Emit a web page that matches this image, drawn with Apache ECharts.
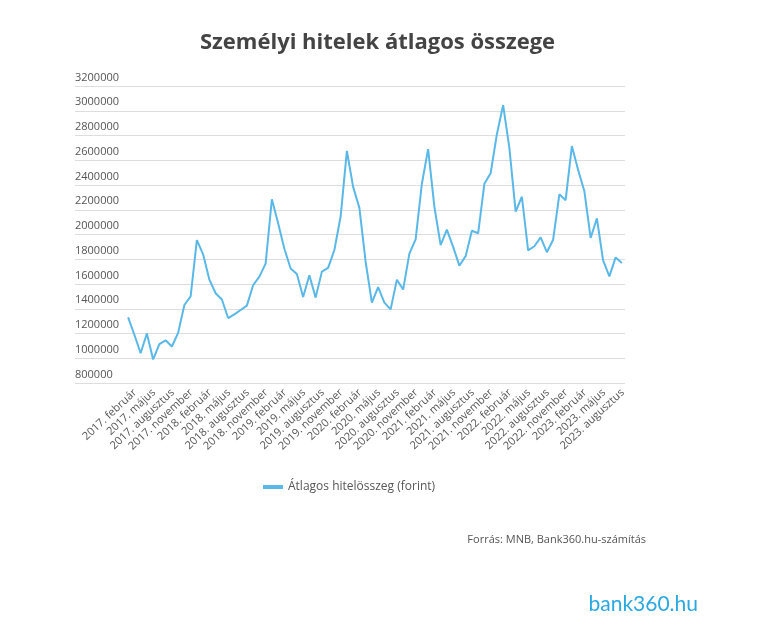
<!DOCTYPE html>
<html>
<head>
<meta charset="utf-8">
<script src="https://cdn.jsdelivr.net/npm/echarts@6/dist/echarts.min.js"></script>
<style>
  html, body { margin: 0; padding: 0; background: #fff; }
  #chart { width: 773px; height: 639px; }
</style>
</head>
<body>
<div id="chart"></div>
<script>
const months = ['január', 'február', 'március', 'április', 'május', 'június',
  'július', 'augusztus', 'szeptember', 'október', 'november', 'december'];

// 2017. február .. 2023. szeptember, monthly
const categories = [];
for (let y = 2017, m = 1; categories.length < 80; m++) {
  if (m === 12) { m = 0; y++; }
  categories.push(y + '. ' + months[m]);
}

const avgLoan = [
  1330000, 1190000, 1040000, 1200000, 990000, 1115000, 1145000, 1095000, 1205000, 1430000,
  1500000, 1955000, 1840000, 1635000, 1525000, 1475000, 1325000, 1355000, 1390000, 1425000,
  1590000, 1660000, 1765000, 2285000, 2090000, 1885000, 1725000, 1680000, 1495000, 1670000,
  1490000, 1700000, 1730000, 1875000, 2145000, 2675000, 2385000, 2215000, 1780000, 1450000,
  1575000, 1450000, 1395000, 1635000, 1555000, 1845000, 1960000, 2410000, 2690000, 2225000,
  1915000, 2040000, 1900000, 1748000, 1825000, 2030000, 2010000, 2410000, 2495000, 2810000,
  3045000, 2700000, 2185000, 2305000, 1872000, 1905000, 1977000, 1857000, 1958000, 2325000,
  2277000, 2715000, 2522000, 2350000, 1972000, 2130000, 1790000, 1662000, 1815000, 1770000
];

const yTicks = { min: 800000, max: 3200000, step: 200000 };

const font = '"Open Sans", "Noto Sans", sans-serif';
const chart = echarts.init(document.getElementById('chart'));

chart.setOption({
  animation: false,
  textStyle: { fontFamily: font },
  title: [
    {
      text: 'Személyi hitelek átlagos összege',
      left: 195, top: 27,
      textStyle: { fontSize: 22, fontWeight: 700, color: '#444', fontFamily: font }
    },
    {
      text: 'Forrás: MNB, Bank360.hu-számítás',
      right: 122, top: 529,
      textStyle: { fontSize: 11, fontWeight: 400, color: '#555', fontFamily: font }
    },
    {
      text: 'bank360.hu',
      right: 70, top: 589,
      textStyle: { fontSize: 21, fontWeight: 400, color: '#2aa8e2', fontFamily: '"Lato", sans-serif' }
    }
  ],
  legend: {
    top: 476, left: 258,
    itemWidth: 20, itemHeight: 4,
    icon: 'rect',
    textStyle: { fontSize: 12, color: '#555', fontFamily: font },
    data: ['Átlagos hitelösszeg (forint)']
  },
  grid: [
    { left: 75, right: 148, top: 86, height: 297 },   // full-width gridlines + y labels
    { left: 125, right: 148, top: 86, height: 297 },  // plot
    { left: 132, right: 141, top: 86, height: 297 }   // x labels, nudged right like the original
  ],
  xAxis: [
    { type: 'value', gridIndex: 0, show: false, min: 0, max: 1 },
    {
      type: 'category', gridIndex: 1, data: categories, boundaryGap: true,
      axisLine: { show: false }, axisTick: { show: false }, axisLabel: { show: false }
    },
    {
      type: 'category', gridIndex: 2, data: categories, boundaryGap: true,
      axisLine: { show: false }, axisTick: { show: false },
      axisLabel: { interval: 2, rotate: 43, margin: 8, fontSize: 11, color: '#555', fontFamily: font }
    }
  ],
  yAxis: [
    {
      type: 'value', gridIndex: 0, min: yTicks.min, max: yTicks.max, interval: yTicks.step,
      axisLine: { show: false }, axisTick: { show: false },
      splitLine: { lineStyle: { color: '#ddd', width: 1 } },
      axisLabel: {
        inside: true, margin: 0, align: 'left', verticalAlign: 'bottom',
        padding: [0, 0, 3, 0], fontSize: 11, color: '#555', fontFamily: font,
        formatter: v => String(v)
      }
    },
    {
      type: 'value', gridIndex: 1, min: yTicks.min, max: yTicks.max, interval: yTicks.step,
      show: false, splitLine: { show: false }
    },
    {
      type: 'value', gridIndex: 2, min: yTicks.min, max: yTicks.max, interval: yTicks.step,
      show: false, splitLine: { show: false }
    }
  ],
  series: [{
    name: 'Átlagos hitelösszeg (forint)',
    type: 'line', xAxisIndex: 1, yAxisIndex: 1,
    data: avgLoan,
    showSymbol: false, symbol: 'none',
    lineStyle: { color: '#5ab8e8', width: 2 },
    itemStyle: { color: '#5ab8e8' }
  }]
});
</script>
</body>
</html>
